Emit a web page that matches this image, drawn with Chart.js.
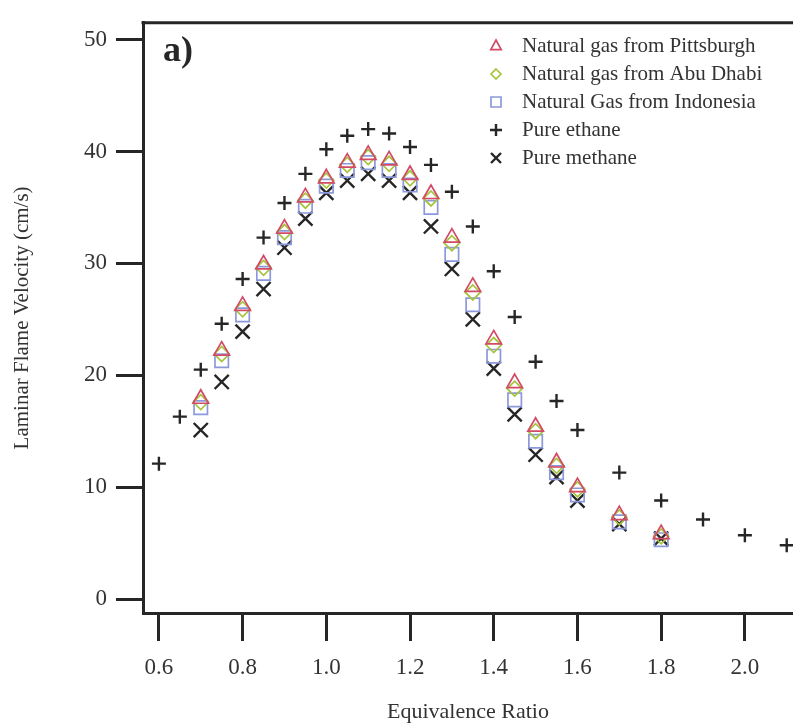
<!DOCTYPE html>
<html>
<head>
<meta charset="utf-8">
<script src="https://cdn.jsdelivr.net/npm/chart.js@4.4.1/dist/chart.umd.min.js"></script>
<style>
  html, body { margin: 0; padding: 0; background: #fff; }
  #wrap { width: 793px; height: 727px; }
</style>
</head>
<body>
<div id="wrap"><canvas id="chart"></canvas></div>
<script>
// equivalence ratios
const phiGas = [0.7, 0.75, 0.8, 0.85, 0.9, 0.95, 1.0, 1.05, 1.1, 1.15, 1.2, 1.25, 1.3, 1.35, 1.4, 1.45, 1.5, 1.55, 1.6, 1.7, 1.8];
const phiEthane = [0.6, 0.65, 0.7, 0.75, 0.8, 0.85, 0.9, 0.95, 1.0, 1.05, 1.1, 1.15, 1.2, 1.25, 1.3, 1.35, 1.4, 1.45, 1.5, 1.55, 1.6, 1.7, 1.8, 1.9, 2.0, 2.1];

// laminar flame velocity, cm/s
const pittsburgh = [17.9, 22.2, 26.2, 29.9, 33.1, 35.9, 37.6, 39.0, 39.7, 39.2, 37.9, 36.2, 32.3, 27.9, 23.2, 19.3, 15.4, 12.2, 10.0, 7.5, 5.8];
const abuDhabi   = [17.6, 21.9, 25.9, 29.6, 32.8, 35.6, 37.4, 38.8, 39.5, 38.9, 37.6, 35.8, 31.8, 27.4, 22.7, 18.8, 15.0, 11.9, 9.8, 7.3, 5.6];
const indonesia  = [17.1, 21.3, 25.4, 29.1, 32.3, 35.1, 36.9, 38.3, 39.0, 38.3, 37.0, 35.0, 30.8, 26.3, 21.7, 17.8, 14.1, 11.3, 9.3, 6.9, 5.3];
const ethane     = [12.1, 16.3, 20.5, 24.6, 28.6, 32.3, 35.4, 38.0, 40.2, 41.4, 42.0, 41.6, 40.4, 38.8, 36.4, 33.3, 29.3, 25.2, 21.2, 17.7, 15.1, 11.3, 8.8, 7.1, 5.7, 4.8];
const methane    = [15.1, 19.4, 23.9, 27.7, 31.4, 34.0, 36.3, 37.4, 38.0, 37.4, 36.3, 33.3, 29.5, 25.0, 20.6, 16.5, 12.9, 10.9, 8.8, 6.7, 5.4];

const xTicks = [0.6, 0.8, 1.0, 1.2, 1.4, 1.6, 1.8, 2.0];
const yTicks = [0, 10, 20, 30, 40, 50];

const toPoints = (xs, ys) => xs.map((x, i) => ({ x: x, y: ys[i] }));
const serif = '"Liberation Serif", "Times New Roman", serif';
const ink = '#262626';

const datasets = [
  { label: 'Natural gas from Pittsburgh', data: toPoints(phiGas, pittsburgh), pointStyle: 'triangle', pointRadius: 9, borderColor: '#d24a66', pointBorderWidth: 1.7 },
  { label: 'Natural gas from Abu Dhabi', data: toPoints(phiGas, abuDhabi), pointStyle: 'rectRot', pointRadius: 7.5, borderColor: '#a6c43c', pointBorderWidth: 1.7 },
  { label: 'Natural Gas from Indonesia', data: toPoints(phiGas, indonesia), pointStyle: 'rect', pointRadius: 9.5, borderColor: '#8c98dc', pointBorderWidth: 1.7 },
  { label: 'Pure ethane', data: toPoints(phiEthane, ethane), pointStyle: 'cross', pointRadius: 7, borderColor: ink, pointBorderWidth: 2.4 },
  { label: 'Pure methane', data: toPoints(phiGas, methane), pointStyle: 'crossRot', pointRadius: 10, borderColor: ink, pointBorderWidth: 2.4 }
].map(d => Object.assign(d, { backgroundColor: 'rgba(0,0,0,0)', showLine: false, pointHoverRadius: d.pointRadius }));

// small marker painter for the in-plot legend
function marker(ctx, style, x, y, r) {
  ctx.beginPath();
  if (style === 'triangle') {
    ctx.moveTo(x, y - r);
    ctx.lineTo(x + r * 0.87, y + r * 0.6);
    ctx.lineTo(x - r * 0.87, y + r * 0.6);
    ctx.closePath();
  } else if (style === 'rectRot') {
    ctx.moveTo(x, y - r); ctx.lineTo(x + r, y); ctx.lineTo(x, y + r); ctx.lineTo(x - r, y); ctx.closePath();
  } else if (style === 'rect') {
    ctx.rect(x - r, y - r, 2 * r, 2 * r);
  } else if (style === 'cross') {
    ctx.moveTo(x - r, y); ctx.lineTo(x + r, y); ctx.moveTo(x, y - r); ctx.lineTo(x, y + r);
  } else {
    ctx.moveTo(x - r, y - r); ctx.lineTo(x + r, y + r); ctx.moveTo(x + r, y - r); ctx.lineTo(x - r, y + r);
  }
  ctx.stroke();
}

const frameAndLegend = {
  id: 'frameAndLegend',
  afterDraw(chart) {
    const { ctx, chartArea } = chart;
    ctx.save();
    // top edge of the frame
    ctx.strokeStyle = ink;
    ctx.lineWidth = 3;
    ctx.beginPath();
    ctx.moveTo(chartArea.left - 1.5, chartArea.top);
    ctx.lineTo(chart.width, chartArea.top);
    ctx.stroke();

    // panel label
    ctx.fillStyle = ink;
    ctx.font = 'bold 36px ' + serif;
    ctx.textBaseline = 'alphabetic';
    ctx.fillText('a)', 163, 61);

    // legend
    const sizes = [6, 5, 5, 6, 5];
    ctx.font = '21px ' + serif;
    ctx.textBaseline = 'middle';
    chart.data.datasets.forEach((ds, i) => {
      const y = 46 + i * 28;
      ctx.strokeStyle = ds.borderColor;
      ctx.lineWidth = i < 3 ? 1.7 : 2.4;
      marker(ctx, ds.pointStyle, 496, y, sizes[i]);
      ctx.fillStyle = '#333';
      ctx.fillText(ds.label, 522, y);
    });
    ctx.restore();
  }
};

new Chart(document.getElementById('chart'), {
  type: 'scatter',
  data: { datasets: datasets },
  options: {
    responsive: true,
    maintainAspectRatio: false,
    animation: false,
    layout: { autoPadding: false, padding: { top: 18, right: 0, left: 0, bottom: 0 } },
    plugins: { legend: { display: false }, tooltip: { enabled: false } },
    scales: {
      x: {
        type: 'linear',
        min: 0.562,
        max: 2.115,
        afterBuildTicks: (scale) => { scale.ticks = xTicks.map(v => ({ value: v })); },
        afterFit: (scale) => { scale.height = 114; },
        grid: { drawOnChartArea: false, tickLength: 28, tickWidth: 3, tickColor: ink },
        border: { color: ink, width: 3 },
        ticks: { color: '#333', font: { family: serif, size: 23 }, padding: 13, maxRotation: 0, callback: (v) => Number(v).toFixed(1) },
        title: { display: true, text: 'Equivalence Ratio', color: '#333', font: { family: serif, size: 22 }, padding: { top: 0, bottom: 2 } }
      },
      y: {
        type: 'linear',
        min: -1.25,
        max: 51.5,
        afterBuildTicks: (scale) => { scale.ticks = yTicks.map(v => ({ value: v })); },
        afterFit: (scale) => { scale.width = 143; },
        grid: { drawOnChartArea: false, tickLength: 27, tickWidth: 3, tickColor: ink },
        border: { color: ink, width: 3 },
        ticks: { color: '#333', font: { family: serif, size: 23 }, padding: 9 },
        title: { display: true, text: 'Laminar Flame Velocity (cm/s)', color: '#333', font: { family: serif, size: 21 }, padding: { top: 10, bottom: 0 } }
      }
    }
  },
  plugins: [frameAndLegend]
});
</script>
</body>
</html>
